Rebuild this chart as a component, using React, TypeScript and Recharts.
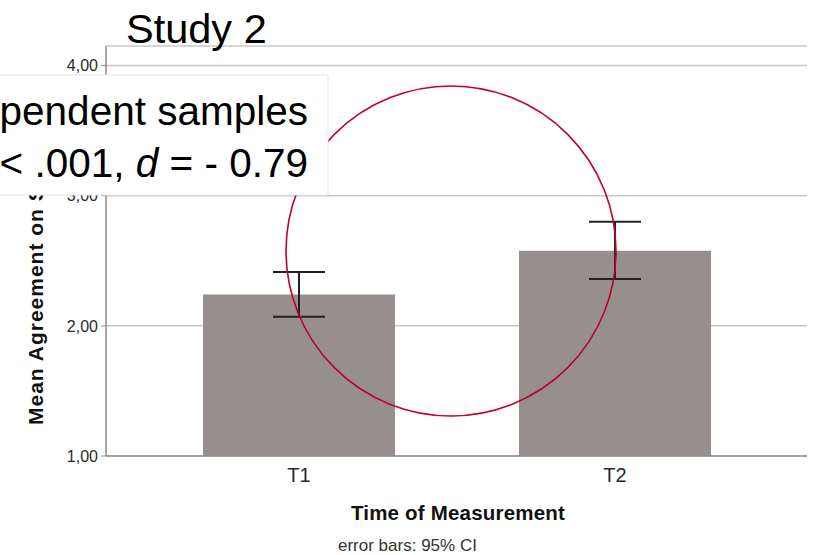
import React from 'react';
import { BarChart, Bar, XAxis, YAxis, CartesianGrid, ErrorBar } from 'recharts';

const categories = ['T1', 'T2'];
const means = [2.24, 2.577];
const ciLow = [2.07, 2.36];
const ciHigh = [2.413, 2.8];
const yTicks = [1, 2, 3, 4];

const data = categories.map((c, i) => ({
  name: c,
  mean: means[i],
  err: [means[i] - ciLow[i], ciHigh[i] - means[i]],
}));

const FONT = '"Liberation Sans", Arial, sans-serif';

const fmt = (v: number) => v.toFixed(2).replace('.', ',');

export default function App() {
  return (
    <div style={{ position: 'absolute', left: 0, top: 0, width: 814, height: 555, background: '#fff', fontFamily: FONT }}>
      <BarChart
        width={814}
        height={555}
        data={data}
        margin={{ top: 46, right: 7, bottom: 59, left: 46 }}
      >
        <CartesianGrid vertical={false} stroke="#c8c8c8" strokeWidth={1.5} />
        <XAxis
          dataKey="name"
          height={40}
          padding={{ left: 35, right: 34 }}
          axisLine={{ stroke: '#8c8c8c', strokeWidth: 1.5 }}
          tickLine={false}
          tickSize={6}
          tickMargin={6}
          tick={{ fontSize: 20, fill: '#2a2a2a', fontFamily: FONT }}
          label={{
            content: () => (
              <g>
                <text x={458} y={520} textAnchor="middle" fontSize={20.5} fontWeight="bold" fill="#111" fontFamily={FONT} letterSpacing={0.2}>
                  Time of Measurement
                </text>
                <text x={338} y={551} textAnchor="start" fontSize={17} fill="#333" fontFamily={FONT}>
                  error bars: 95% CI
                </text>
              </g>
            ),
          }}
        />
        <YAxis
          width={60}
          domain={[1, 4.15]}
          ticks={yTicks}
          tickFormatter={fmt}
          axisLine={{ stroke: '#8c8c8c', strokeWidth: 1.5 }}
          tickLine={{ stroke: '#8c8c8c' }}
          tickSize={5}
          tickMargin={3}
          tick={{ fontSize: 16, fill: '#2a2a2a', fontFamily: FONT }}
          label={{
            content: () => (
              <text
                x={43}
                y={425}
                transform="rotate(-90 43 425)"
                textAnchor="start"
                fontSize={21}
                fontWeight="bold"
                fill="#111"
                fontFamily={FONT}
                letterSpacing={1}
              >
                Mean Agreement on Statements
              </text>
            ),
          }}
        />
        <Bar dataKey="mean" fill="#968f8e" barSize={192} isAnimationActive={false}>
          <ErrorBar dataKey="err" width={26} stroke="#222" strokeWidth={2} direction="y" isAnimationActive={false} />
        </Bar>
      </BarChart>
      <svg
        width={814}
        height={555}
        style={{ position: 'absolute', left: 0, top: 0, pointerEvents: 'none' }}
      >
        <circle cx={451} cy={251} r={165} fill="none" stroke="#c0002d" strokeWidth={1.6} />
        <rect x={-2} y={75} width={330} height={120} fill="#fff" stroke="#e6e6e6" strokeWidth={1} />
        <text x={308} y={125} textAnchor="end" fontSize={40.5} fill="#000" fontFamily={FONT}>
          pendent samples
        </text>
        <text x={308} y={177} textAnchor="end" fontSize={40.5} fill="#000" fontFamily={FONT}>
          &lt; .001, <tspan fontStyle="italic">d</tspan> = - 0.79
        </text>
        <text x={126} y={43} textAnchor="start" fontSize={41.5} fill="#000" fontFamily={FONT}>
          Study 2
        </text>
      </svg>
    </div>
  );
}
